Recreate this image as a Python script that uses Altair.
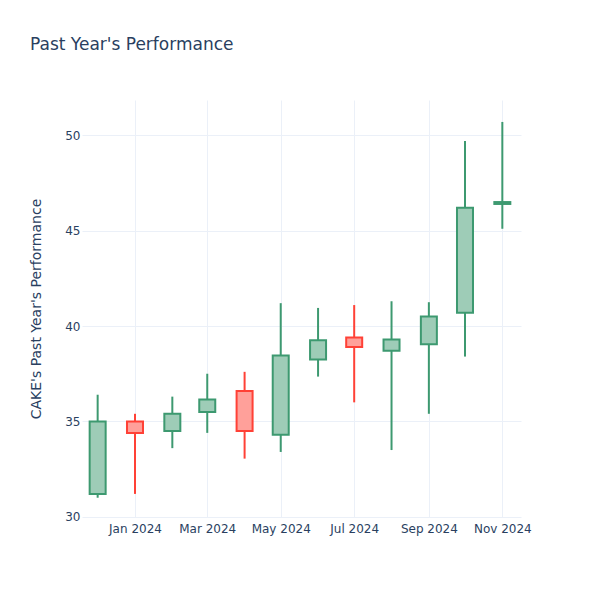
import altair as alt
import pandas as pd

dates = ["2023-12-01", "2024-01-01", "2024-02-01", "2024-03-01", "2024-04-01", "2024-05-01",
         "2024-06-01", "2024-07-01", "2024-08-01", "2024-09-01", "2024-10-01", "2024-11-01"]
opens = [31.2, 35.0, 34.5, 35.5, 36.6, 34.3, 38.25, 39.4, 38.7, 39.05, 40.7, 46.4]
highs = [36.4, 35.4, 36.3, 37.5, 37.6, 41.2, 40.95, 41.1, 41.3, 41.25, 49.7, 50.7]
lows = [31.0, 31.2, 33.6, 34.4, 33.05, 33.4, 37.35, 36.0, 33.5, 35.4, 38.4, 45.1]
closes = [35.0, 34.4, 35.4, 36.15, 34.5, 38.45, 39.25, 38.9, 39.3, 40.5, 46.2, 46.5]

df = pd.DataFrame({"date": dates, "open": opens, "high": highs, "low": lows, "close": closes})
df["dir"] = ["up" if c >= o else "down" for o, c in zip(opens, closes)]

FONT = "DejaVu Sans"
TXT = "#2a3f5f"
GRID = "#EBF0F8"

xenc = alt.X(
    "date:T",
    scale=alt.Scale(type="utc", padding=0,
                    domain=[alt.DateTime(year=2023, month=11, date=18, utc=True),
                            alt.DateTime(year=2024, month=11, date=16, hours=12, utc=True)]),
    axis=alt.Axis(
        values=[alt.DateTime(year=2024, month=m, date=1, utc=True) for m in [1, 3, 5, 7, 9, 11]],
        format="%b %Y", labelFontSize=12, labelColor=TXT, labelFont=FONT,
        gridColor=GRID, gridWidth=1, domain=False, ticks=False, labelPadding=6, title=None,
    ),
)
yscale = alt.Scale(domain=[29.99, 51.85], nice=False, zero=False, padding=0)
yaxis = alt.Axis(
    values=[30, 35, 40, 45, 50], labelFontSize=12, labelColor=TXT, labelFont=FONT,
    gridColor=GRID, gridWidth=1, domain=False, ticks=False, labelPadding=2,
    title="CAKE's Past Year's Performance", titleFontSize=14, titleColor=TXT,
    titleFont=FONT, titleFontWeight="normal", titlePadding=21,
)
color_line = alt.Color("dir:N", scale=alt.Scale(domain=["up", "down"], range=["#3D9970", "#FF4136"]), legend=None)
fill_col = alt.Fill("dir:N", scale=alt.Scale(domain=["up", "down"], range=["#9ECCB7", "#FFA09A"]), legend=None)

wick = alt.Chart(df).mark_rule(strokeWidth=2).encode(
    x=xenc, y=alt.Y("low:Q", scale=yscale, axis=yaxis), y2="high:Q", color=color_line
)
body = alt.Chart(df).mark_bar(size=16, strokeWidth=2, fillOpacity=1).encode(
    x=xenc, y=alt.Y("open:Q", scale=yscale), y2="close:Q", stroke=color_line, fill=fill_col
)

chart = alt.layer(wick, body).properties(
    width=439, height=417,
    title=alt.TitleParams("Past Year's Performance", anchor="start", frame="group", dx=-52, offset=38,
                          fontSize=17, font=FONT, color=TXT, fontWeight="normal", baseline="middle"),
    autosize=alt.AutoSizeParams(type="none"),
    padding={"left": 74, "top": 92, "right": 70, "bottom": 75},
).configure_view(stroke=None)

chart.save("out.html", embed_options={"renderer": "svg", "actions": False})
